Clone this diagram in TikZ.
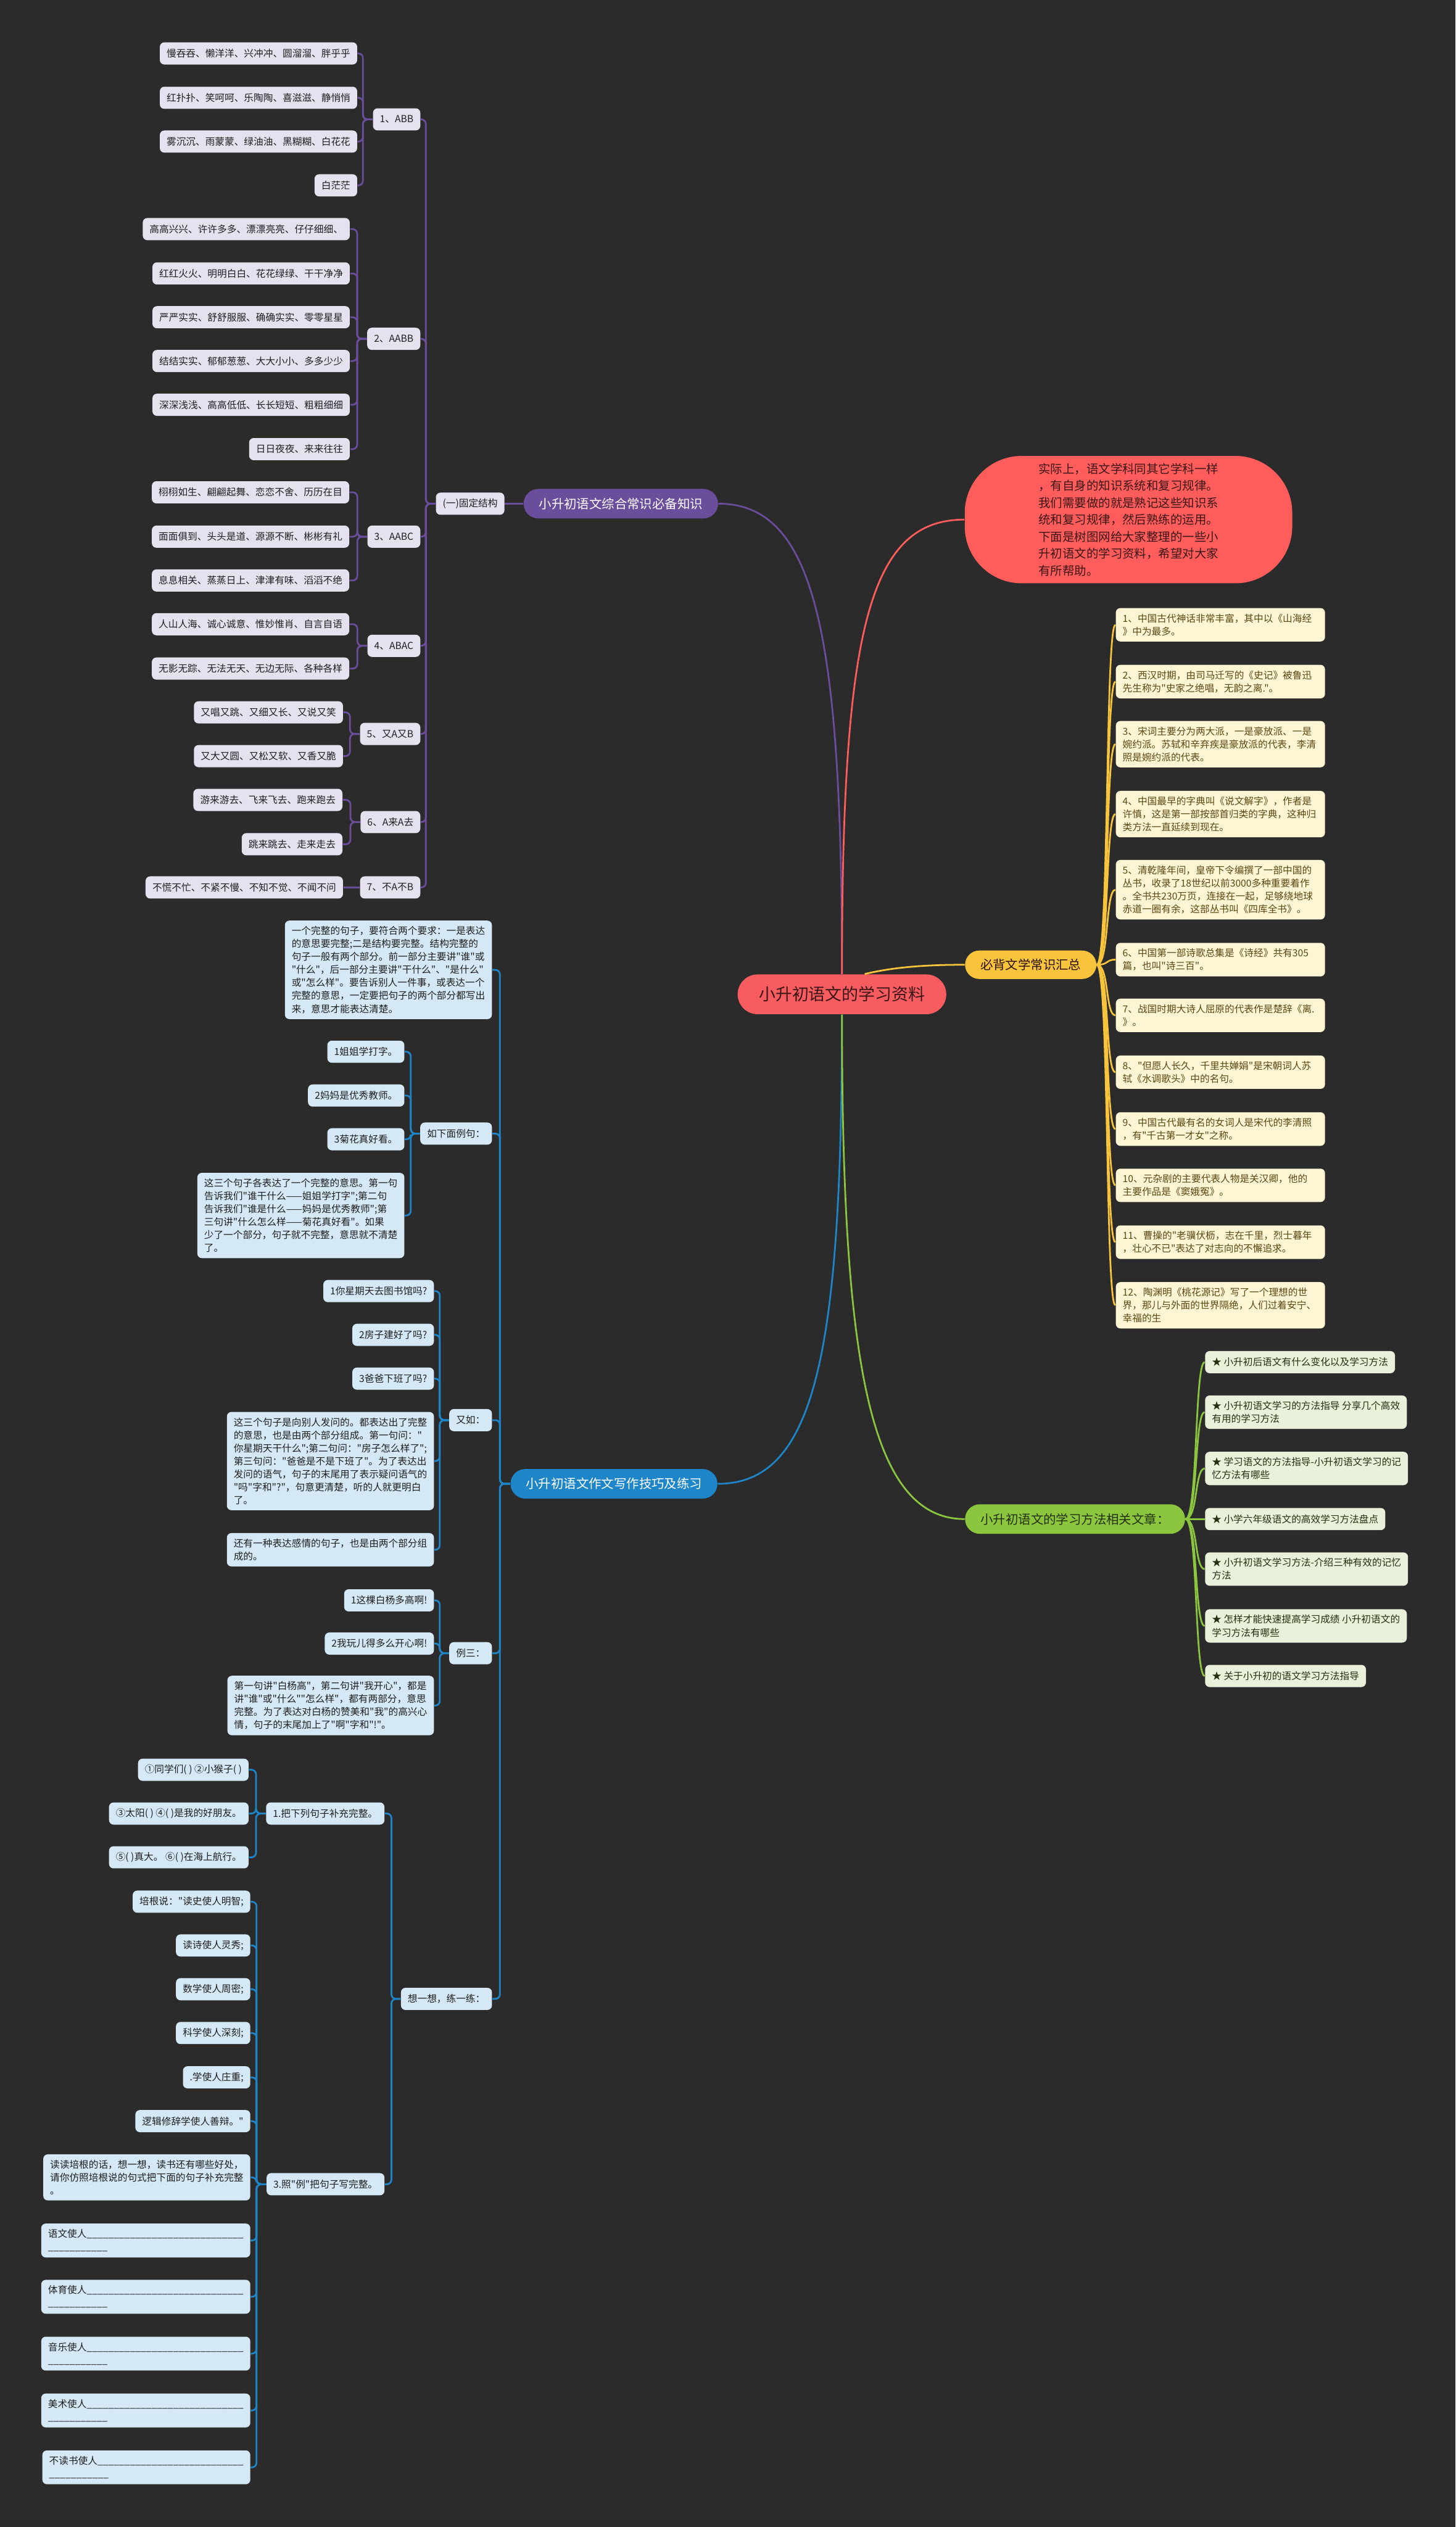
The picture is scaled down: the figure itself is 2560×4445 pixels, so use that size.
\documentclass[tikz,border=0pt]{standalone}
\usepackage{fontspec}
\newfontfamily\cjk{Noto Sans CJK SC}
\usetikzlibrary{positioning, calc}

\definecolor{bg}{HTML}{2B2B2B}
\definecolor{zhishi}{HTML}{6A4E9C}
\definecolor{pleaffill}{HTML}{E6E1EF}
\definecolor{zuowen}{HTML}{1E86C8}
\definecolor{bleaffill}{HTML}{D4E8F5}
\definecolor{changshi}{HTML}{F8C43C}
\definecolor{yleaffill}{HTML}{FEF5D4}
\definecolor{ytext}{HTML}{5A4712}
\definecolor{wenzhang}{HTML}{8CC63F}
\definecolor{gleaffill}{HTML}{E9F1DA}
\definecolor{gtext}{HTML}{23300F}
\definecolor{rootred}{HTML}{F75C61}
\definecolor{introred}{HTML}{FF5C5C}
\definecolor{redtext}{HTML}{3B1616}

\newcommand\fsleaf{\cjk\fontsize{4.84}{6.5}\selectfont}
\newcommand\fsmain{\cjk\fontsize{6.3}{7.5}\selectfont}
\newcommand\fsroot{\cjk\fontsize{8.3}{9.5}\selectfont}
\newcommand\fsintro{\cjk\fontsize{6.0}{8.5}\selectfont}
\newcommand\blankline[1]{\foreach \u in {1,...,#1}{\_}}

\tikzset{
  leaf/.style={rounded corners=0.8mm, inner xsep=1.2mm, inner ysep=1mm,
    minimum height=3.9mm, align=left, font=\fsleaf, text=black!88},
  pleaf/.style={leaf, fill=pleaffill},
  bleaf/.style={leaf, fill=bleaffill},
  yleaf/.style={leaf, fill=yleaffill, text=ytext, text width=34.4mm, anchor=west},
  gleaf/.style={leaf, fill=gleaffill, text=gtext, anchor=west},
  branch/.style={font=\fsmain, inner xsep=2mm, minimum height=5.2mm, rounded corners=2.6mm},
  link/.style={line width=0.3mm, rounded corners=0.8mm},
  pline/.style={link, draw=zhishi},
  bline/.style={link, draw=zuowen},
  yline/.style={link, draw=changshi},
  gline/.style={link, draw=wenzhang},
  rline/.style={link, draw=introred}
}

\begin{document}
\begin{tikzpicture}[x=0.1mm, y=-0.1mm]
    \fill[bg] (0,0) rectangle (2560,4445);
    \useasboundingbox (0,0) rectangle (2560,4445);

    % root and first level
    \node[branch, fill=rootred, text=redtext, font=\fsroot, minimum width=36.7mm,
        minimum height=7mm, rounded corners=3.5mm] (root) at (1481,1749) {小升初语文的学习资料};
    \node[fill=introred, text=redtext, font=\fsintro, align=left, minimum width=57.6mm,
        minimum height=22.4mm, rounded corners=10mm] (intro) at (1985,914)
        {实际上，语文学科同其它学科一样\\，有自身的知识系统和复习规律。\\我们需要做的就是熟记这些知识系\\统和复习规律，然后熟练的运用。\\下面是树图网给大家整理的一些小\\升初语文的学习资料，希望对大家\\有所帮助。};
    \node[branch, fill=zhishi, text=white, minimum width=34.2mm] (zhishi) at (1092,886) {小升初语文综合常识必备知识};
    \node[branch, fill=changshi, text=redtext!70!black, minimum width=23.1mm, minimum height=5mm,
        rounded corners=2.5mm] (changshi) at (1813,1697) {必背文学常识汇总};
    \node[branch, fill=zuowen, text=white, minimum width=36.4mm] (zuowen) at (1080,2610) {小升初语文作文写作技巧及练习};
    \node[branch, fill=wenzhang, text=gtext, minimum width=38.7mm] (wenzhang) at (1891,2672) {小升初语文的学习方法相关文章：};

    \draw[pline] (zhishi.east) .. controls +(170,0) and +(0,-600) .. (root.north);
    \draw[rline] (root.north) .. controls +(0,-600) and +(-170,0) .. (intro.west);
    \draw[yline] ([xshift=4mm]root.north) .. controls +(50,-12) and +(-70,0) .. (changshi.west);
    \draw[bline] (root.south) .. controls +(0,600) and +(170,0) .. (zuowen.east);
    \draw[gline] (root.south) .. controls +(0,600) and +(-170,0) .. (wenzhang.west);

    % purple branch
    \node[pleaf, anchor=east] (guding) at (888,886) {(一)固定结构};
    \draw[pline] (guding.east) -- (zhishi.west);
    \foreach \k/\y/\txt in {abb/210/1、ABB, aabb/596/2、AABB, aabc/944/3、AABC, abac/1136/4、ABAC,
        youayoub/1291/5、又A又B, alaiaqu/1446/6、A来A去, buabub/1561/7、不A不B}
    {
        \node[pleaf, anchor=east] (\k) at (740,\y) {\txt};
        \draw[pline] (guding.west) -- ++(-17,0) |- (\k.east);
    }
    \foreach \k/\y/\txt in {1/94/慢吞吞、懒洋洋、兴冲冲、圆溜溜、胖乎乎, 2/172/红扑扑、笑呵呵、乐陶陶、喜滋滋、静悄悄,
        3/249/雾沉沉、雨蒙蒙、绿油油、黑糊糊、白花花, 4/326/白茫茫}
    {
        \node[pleaf, anchor=east] (abb\k) at (629,\y) {\txt};
        \draw[pline] (abb.west) -- ++(-17,0) |- (abb\k.east);
    }
    \foreach \k/\y/\txt in {1/403/高高兴兴、许许多多、漂漂亮亮、仔仔细细、, 2/481/红红火火、明明白白、花花绿绿、干干净净,
        3/558/严严实实、舒舒服服、确确实实、零零星星, 4/635/结结实实、郁郁葱葱、大大小小、多多少少,
        5/712/深深浅浅、高高低低、长长短短、粗粗细细, 6/790/日日夜夜、来来往往}
    {
        \node[pleaf, anchor=east] (aabb\k) at (616,\y) {\txt};
        \draw[pline] (aabb.west) -- ++(-17,0) |- (aabb\k.east);
    }
    \foreach \k/\y/\txt in {1/866/栩栩如生、翩翩起舞、恋恋不舍、历历在目, 2/944/面面俱到、头头是道、源源不断、彬彬有礼,
        3/1021/息息相关、蒸蒸日上、津津有味、滔滔不绝}
    {
        \node[pleaf, anchor=east] (aabc\k) at (615,\y) {\txt};
        \draw[pline] (aabc.west) -- ++(-17,0) |- (aabc\k.east);
    }
    \foreach \k/\y/\txt in {1/1098/人山人海、诚心诚意、惟妙惟肖、自言自语, 2/1176/无影无踪、无法无天、无边无际、各种各样}
    {
        \node[pleaf, anchor=east] (abac\k) at (615,\y) {\txt};
        \draw[pline] (abac.west) -- ++(-17,0) |- (abac\k.east);
    }
    \foreach \k/\y/\txt in {1/1253/又唱又跳、又细又长、又说又笑, 2/1330/又大又圆、又松又软、又香又脆}
    {
        \node[pleaf, anchor=east] (youayoub\k) at (604,\y) {\txt};
        \draw[pline] (youayoub.west) -- ++(-17,0) |- (youayoub\k.east);
    }
    \foreach \k/\y/\txt in {1/1407/游来游去、飞来飞去、跑来跑去, 2/1485/跳来跳去、走来走去}
    {
        \node[pleaf, anchor=east] (alaiaqu\k) at (603,\y) {\txt};
        \draw[pline] (alaiaqu.west) -- ++(-17,0) |- (alaiaqu\k.east);
    }
    \node[pleaf, anchor=east] (buabub1) at (604,1561) {不慌不忙、不紧不慢、不知不觉、不闻不问};
    \draw[pline] (buabub.west) -- (buabub1.east);

    % blue branch
    \foreach \k/\y/\txt in {
        juzi/1706/{一个完整的句子，要符合两个要求：一是表达\\的意思要完整;二是结构要完整。结构完整的\\句子一般有两个部分。前一部分主要讲"谁"或\\"什么"，后一部分主要讲"干什么"、"是什么"\\或"怎么样"。要告诉别人一件事，或表达一个\\完整的意思，一定要把句子的两个部分都写出\\来，意思才能表达清楚。},
        liju/1994/如下面例句：, youru/2498/又如：, lisan/2908/例三：, lianxi/3516/想一想，练一练：}
    {
        \node[bleaf, anchor=east] (\k) at (866,\y) {\txt};
        \draw[bline] (zuowen.west) -- ++(-18,0) |- (\k.east);
    }
    \foreach \k/\y/\txt in {1/1850/1姐姐学打字。, 2/1927/2妈妈是优秀教师。, 3/2004/3菊花真好看。,
        4/2138/{这三个句子各表达了一个完整的意思。第一句\\告诉我们"谁干什么——姐姐学打字";第二句\\告诉我们"谁是什么——妈妈是优秀教师";第\\三句讲"什么怎么样——菊花真好看"。如果\\少了一个部分，句子就不完整，意思就不清楚\\了。}}
    {
        \node[bleaf, anchor=east] (liju\k) at (712,\y) {\txt};
        \draw[bline] (liju.west) -- ++(-16,0) |- (liju\k.east);
    }
    \foreach \k/\y/\txt in {1/2271/1你星期天去图书馆吗?, 2/2348/2房子建好了吗?, 3/2425/3爸爸下班了吗?,
        4/2570/{这三个句子是向别人发问的。都表达出了完整\\的意思，也是由两个部分组成。第一句问："\\你星期天干什么";第二句问："房子怎么样了";\\第三句问："爸爸是不是下班了"。为了表达出\\发问的语气，句子的末尾用了表示疑问语气的\\"吗"字和"?"，句意更清楚，听的人就更明白\\了。},
        5/2726/{还有一种表达感情的句子，也是由两个部分组\\成的。}}
    {
        \node[bleaf, anchor=east] (youru\k) at (764,\y) {\txt};
        \draw[bline] (youru.west) -- ++(-16,0) |- (youru\k.east);
    }
    \foreach \k/\y/\txt in {1/2815/1这棵白杨多高啊!, 2/2891/2我玩儿得多么开心啊!,
        3/3000/{第一句讲"白杨高"，第二句讲"我开心"，都是\\讲"谁"或"什么""怎么样"，都有两部分，意思\\完整。为了表达对白杨的赞美和"我"的高兴心\\情，句子的末尾加上了"啊"字和"!"。}}
    {
        \node[bleaf, anchor=east] (lisan\k) at (764,\y) {\txt};
        \draw[bline] (lisan.west) -- ++(-16,0) |- (lisan\k.east);
    }
    \foreach \k/\y/\txt in {buchong/3190/1.把下列句子补充完整。, zhaoli/3842/3.照"例"把句子写完整。}
    {
        \node[bleaf, anchor=east] (\k) at (677,\y) {\txt};
        \draw[bline] (lianxi.west) -- ++(-16,0) |- (\k.east);
    }
    \foreach \k/\y/\txt in {1/3113/①同学们( ) ②小猴子( ), 2/3190/③太阳( ) ④( )是我的好朋友。, 3/3267/⑤( )真大。 ⑥( )在海上航行。}
    {
        \node[bleaf, anchor=east] (buchong\k) at (438,\y) {\txt};
        \draw[bline] (buchong.west) -- ++(-17,0) |- (buchong\k.east);
    }
    \foreach \k/\y/\txt in {1/3345/培根说："读史使人明智;, 2/3422/读诗使人灵秀;, 3/3499/数学使人周密;,
        4/3576/科学使人深刻;, 5/3654/.学使人庄重;, 6/3731/逻辑修辞学使人善辩。",
        7/3830/{读读培根的话，想一想，读书还有哪些好处，\\请你仿照培根说的句式把下面的句子补充完整\\。},
        8/3941/{语文使人\blankline{29}\\\blankline{11}}, 9/4040/{体育使人\blankline{29}\\\blankline{11}},
        10/4140/{音乐使人\blankline{29}\\\blankline{11}}, 11/4240/{美术使人\blankline{29}\\\blankline{11}},
        12/4340/{不读书使人\blankline{27}\\\blankline{11}}}
    {
        \node[bleaf, anchor=east] (zhaoli\k) at (441,\y) {\txt};
        \draw[bline] (zhaoli.west) -- ++(-17,0) |- (zhaoli\k.east);
    }

    % yellow branch
    \foreach \k/\y/\txt in {
        1/1099/{1、中国古代神话非常丰富，其中以《山海经\\》中为最多。},
        2/1199/{2、西汉时期，由司马迁写的《史记》被鲁迅\\先生称为"史家之绝唱，无韵之离."。},
        3/1309/{3、宋词主要分为两大派，一是豪放派、一是\\婉约派。苏轼和辛弃疾是豪放派的代表，李清\\照是婉约派的代表。},
        4/1432/{4、中国最早的字典叫《说文解字》，作者是\\许慎，这是第一部按部首归类的字典，这种归\\类方法一直延续到现在。},
        5/1565/{5、清乾隆年间，皇帝下令编撰了一部中国的\\丛书，收录了18世纪以前3000多种重要着作\\。全书共230万页，连接在一起，足够绕地球\\赤道一圈有余，这部丛书叫《四库全书》。},
        6/1688/{6、中国第一部诗歌总集是《诗经》共有305\\篇，也叫"诗三百"。},
        7/1786/{7、战国时期大诗人屈原的代表作是楚辞《离.\\》。},
        8/1886/{8、"但愿人长久，千里共婵娟"是宋朝词人苏\\轼《水调歌头》中的名句。},
        9/1986/{9、中国古代最有名的女词人是宋代的李清照\\，有"千古第一才女"之称。},
        10/2085/{10、元杂剧的主要代表人物是关汉卿，他的\\主要作品是《窦娥冤》。},
        11/2185/{11、曹操的"老骥伏枥，志在千里，烈士暮年\\，壮心不已"表达了对志向的不懈追求。},
        12/2296/{12、陶渊明《桃花源记》写了一个理想的世\\界，那儿与外面的世界隔绝，人们过着安宁、\\幸福的生}}
    {
        \node[yleaf] (cs\k) at (1962,\y) {\txt};
        \draw[yline] (changshi.east) .. controls +(22,0) and +(-18,0) .. (cs\k.west);
    }

    % green branch
    \foreach \k/\y/\txt in {
        1/2396/★ 小升初后语文有什么变化以及学习方法,
        2/2484/{★ 小升初语文学习的方法指导 分享几个高效\\有用的学习方法},
        3/2583/{★ 学习语文的方法指导-小升初语文学习的记\\忆方法有哪些},
        4/2672/★ 小学六年级语文的高效学习方法盘点,
        5/2760/{★ 小升初语文学习方法-介绍三种有效的记忆\\方法},
        6/2860/{★ 怎样才能快速提高学习成绩 小升初语文的\\学习方法有哪些},
        7/2948/★ 关于小升初的语文学习方法指导}
    {
        \node[gleaf] (wz\k) at (2119,\y) {\txt};
        \draw[gline] (wenzhang.east) .. controls +(22,0) and +(-18,0) .. (wz\k.west);
    }
\end{tikzpicture}
\end{document}
